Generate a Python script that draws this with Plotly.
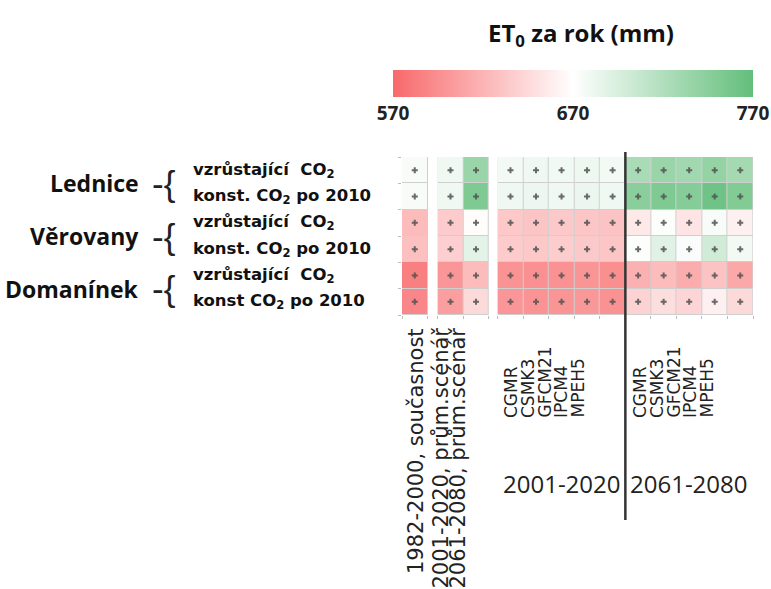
import plotly.graph_objects as go

# ---------------- data ----------------
stations = ["Lednice", "Věrovany", "Domanínek"]
scenario_labels = [
    "vzrůstající  CO<sub>2</sub>", "konst. CO<sub>2</sub> po 2010",
    "vzrůstající  CO<sub>2</sub>", "konst. CO<sub>2</sub> po 2010",
    "vzrůstající  CO<sub>2</sub>", "konst CO<sub>2</sub> po 2010",
]
single_labels = ["1982-2000, současnost"]
avg_labels = ["2001-2020, prům.scénář", "2061-2080, prům.scénář"]
gcm_labels = ["CGMR", "CSMK3", "GFCM21", "IPCM4", "MPEH5"]
period_labels = ["2001-2020", "2061-2080"]

# ET0 per year (mm); columns: 1982-2000, 2001-2020 avg, 2061-2080 avg,
# 5 GCMs 2001-2020, 5 GCMs 2061-2080
lednice_vzr     = [675, 680, 735, 678, 680, 679, 681, 678, 725, 735, 730, 738, 728]
lednice_konst   = [675, 680, 752, 680, 682, 680, 683, 680, 745, 752, 748, 762, 750]
verovany_vzr    = [625, 635, 668, 633, 631, 634, 632, 630, 655, 672, 652, 675, 660]
verovany_konst  = [628, 638, 688, 635, 633, 636, 634, 632, 672, 690, 674, 700, 678]
domaninek_vzr   = [585, 600, 625, 598, 596, 597, 599, 595, 618, 625, 615, 630, 612]
domaninek_konst = [590, 605, 645, 600, 598, 599, 601, 597, 640, 648, 642, 660, 645]

cbar_ticks = [570, 670, 770]

rows = [lednice_vzr, lednice_konst, verovany_vzr, verovany_konst,
        domaninek_vzr, domaninek_konst]

# ---------------- layout geometry ----------------
W, H = 771, 589
ML, MR, MT, MB = 402, 18, 157, 274
PW = W - ML - MR
PH = H - MT - MB


def px_x(p):
    return (p - ML) / PW


def px_y(p):
    return (H - MB - p) / PH


group_sizes = [1, 2, 5, 5]
group_gaps = [0.0, 0.4, 0.35, 0.0]

colorscale = [[0.0, "#F8696B"], [0.5, "#FFFFFF"], [1.0, "#63BE7B"]]

fig = go.Figure()

col_centers = []
all_edges = []
group_spans = []
start = 0.0
c0 = 0
for gi, n in enumerate(group_sizes):
    start += group_gaps[gi]
    edges = [start + k for k in range(n + 1)]
    group_spans.append((edges[0], edges[-1]))
    all_edges.extend(edges)
    col_centers.extend([e + 0.5 for e in edges[:-1]])
    z = [r[c0:c0 + n] for r in rows]
    # grey grid underlay
    fig.add_trace(go.Heatmap(
        x=edges, y=list(range(len(rows) + 1)),
        z=[[0] * n for _ in rows],
        colorscale=[[0, "#cfcfcf"], [1, "#cfcfcf"]],
        showscale=False, hoverinfo="skip"))
    fig.add_trace(go.Heatmap(
        x=edges, y=list(range(len(rows) + 1)), z=z,
        zmin=570, zmax=770, colorscale=colorscale,
        xgap=1, ygap=1,
        showscale=(gi == 0),
        colorbar=dict(
            orientation="h", lenmode="pixels", len=360, thickness=27,
            x=px_x(573), xanchor="center", y=px_y(70), yanchor="top",
            ypad=0, xpad=0, outlinewidth=0, ticks="",
            tickvals=cbar_ticks,
            tickfont=dict(family="Open Sans", size=19, color="#222", weight="bold"),
        ),
    ))
    c0 += n
    start = edges[-1]

x_max = start

# markers in each cell
mx, my = [], []
for ri, r in enumerate(rows):
    for ci in range(len(r)):
        mx.append(col_centers[ci])
        my.append(ri + 0.5)
fig.add_trace(go.Scatter(
    x=mx, y=my, mode="markers",
    marker=dict(symbol="cross", size=5, color="rgba(80,80,80,0.85)"),
    hoverinfo="skip", showlegend=False))

ann = []
# colorbar title
ann.append(dict(text="<b>ET<sub>0</sub> za rok (mm)</b>", x=px_x(581), y=px_y(34),
                xref="paper", yref="paper", xanchor="center", yanchor="middle",
                showarrow=False,
                font=dict(family="Open Sans", size=24, color="#111")))

# station labels + braces
for si, st in enumerate(stations):
    yc = 2 * si + 1
    ann.append(dict(text="<b>%s</b>" % st, x=px_x(141), y=yc, xref="paper", yref="y",
                    xanchor="right", yanchor="middle", showarrow=False,
                    font=dict(family="Open Sans", size=23, color="#111")))
    ann.append(dict(text="-{", x=px_x(150), y=yc, xref="paper", yref="y",
                    xanchor="left", yanchor="middle", showarrow=False,
                    font=dict(family="Liberation Sans", size=35, color="#222")))
for ri, lab in enumerate(scenario_labels):
    ann.append(dict(text="<b>%s</b>" % lab, x=px_x(191), y=ri + 0.5, xref="paper",
                    yref="y", xanchor="left", yanchor="middle", showarrow=False,
                    font=dict(family="DejaVu Sans", size=16.5, color="#111")))

rot_font = dict(family="DejaVu Sans", size=21, color="#222")
# single + average labels (rotated, anchored at top)
top_label_px = [416, 440, 457]
for lab, xp in zip(single_labels + avg_labels, top_label_px):
    ann.append(dict(text=lab, textangle=-90, x=px_x(xp), y=px_y(326),
                    xref="paper", yref="paper", xanchor="center", yanchor="top",
                    showarrow=False, font=rot_font))

# GCM labels (rotated, anchored at bottom)
gcm_font = dict(family="DejaVu Sans", size=17, color="#222")
for gstart_px in (511, 640):
    for k, lab in enumerate(gcm_labels):
        ann.append(dict(text=lab, textangle=-90, x=px_x(gstart_px + 16.5 * k),
                        y=px_y(420), xref="paper", yref="paper",
                        xanchor="center", yanchor="bottom", showarrow=False,
                        font=gcm_font))

# period labels
for (a, b), lab in zip(group_spans[2:], period_labels):
    ann.append(dict(text=lab, x=(a + b) / 2, y=px_y(483), xref="x", yref="paper",
                    xanchor="center", yanchor="middle", showarrow=False,
                    font=dict(family="Open Sans", size=24, color="#222")))

# separator line between the two GCM periods
sep_x = group_spans[3][0]
shapes = [dict(type="line", xref="x", yref="paper", x0=sep_x, x1=sep_x,
               y0=px_y(520), y1=px_y(152), line=dict(color="#333", width=2.5))]

fig.update_layout(
    width=W, height=H,
    margin=dict(l=ML, r=MR, t=MT, b=MB, pad=0),
    paper_bgcolor="white", plot_bgcolor="white",
    annotations=ann, shapes=shapes, showlegend=False,
    xaxis=dict(range=[0, x_max], showgrid=False, zeroline=False, showline=False,
               tickvals=all_edges, ticks="outside", ticklen=3, tickcolor="#bbb",
               showticklabels=False, fixedrange=True),
    yaxis=dict(range=[len(rows), 0], showgrid=False, zeroline=False, showline=False,
               tickvals=list(range(len(rows) + 1)), ticks="outside", ticklen=3,
               tickcolor="#bbb", showticklabels=False, fixedrange=True),
)

fig.write_html("out.html")
